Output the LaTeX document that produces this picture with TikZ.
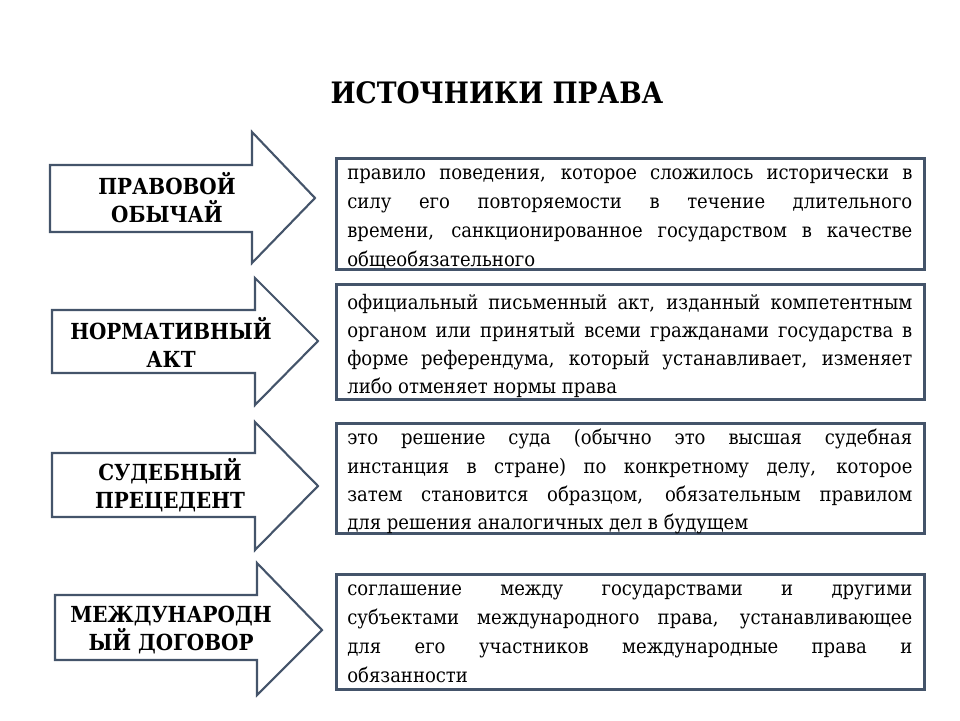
\documentclass[tikz,border=0pt]{standalone}
\usepackage{fontspec}
\setmainfont{DejaVu Serif Condensed}
\definecolor{slate}{RGB}{68,84,106}
\tikzset{
  srcarrow/.style={draw=slate, line width=1.2pt, fill=white, line join=miter},
  srclabel/.style={font=\fontsize{12.6}{16}\selectfont\bfseries, align=center},
  defbox/.style={draw=slate, line width=1.8pt, anchor=north west,
    minimum width=11.76cm, inner sep=0pt},
  deftext/.style={anchor=north west, text width=11.3cm, inner sep=0pt,
    align=justify, font=\fontsize{11.4}{16.5}\selectfont}
}

\begin{document}
\hyphenpenalty=10000
\begin{tikzpicture}[x=0.02cm, y=-0.02cm]
  \useasboundingbox (0,0) rectangle (960,720);

  \node[font=\fontsize{16.8}{20}\selectfont\bfseries] (title) at (497,93) {ИСТОЧНИКИ ПРАВА};

  % правовой обычай
  \draw[srcarrow] (50,165) -- (252,165) -- (252,132) -- (315,198)
    -- (252,263) -- (252,232) -- (50,232) -- cycle;
  \node[srclabel] (custom) at (167,198) {ПРАВОВОЙ\\ОБЫЧАЙ};
  \node[defbox, minimum height=2.22cm] (customdef) at (335,157) {};
  \node[deftext] (customtext) at (347,168)
    {правило поведения, которое сложилось исторически в\linebreak
     силу его повторяемости в течение длительного\linebreak
     времени, санкционированное государством в качестве\linebreak
     общеобязательного};

  % нормативный акт
  \draw[srcarrow] (52,310) -- (255,310) -- (255,278) -- (318,341)
    -- (255,405) -- (255,373) -- (52,373) -- cycle;
  \node[srclabel] (statute) at (171,342) {НОРМАТИВНЫЙ\\АКТ};
  \node[defbox, minimum height=2.3cm] (statutedef) at (335,283) {};
  \node[deftext, font=\fontsize{11.4}{16}\selectfont] (statutetext) at (347,294)
    {официальный письменный акт, изданный компетентным\linebreak
     органом или принятый всеми гражданами государства в\linebreak
     форме референдума, который устанавливает, изменяет\linebreak
     либо отменяет нормы права};

  % судебный прецедент
  \draw[srcarrow] (52,453) -- (255,453) -- (255,422) -- (318,486)
    -- (255,550) -- (255,517) -- (52,517) -- cycle;
  \node[srclabel] (precedent) at (170,485) {СУДЕБНЫЙ\\ПРЕЦЕДЕНТ};
  \node[defbox, minimum height=2.2cm] (precedentdef) at (335,422) {};
  \node[deftext, font=\fontsize{11.4}{16}\selectfont] (precedenttext) at (347,429)
    {это решение суда (обычно это высшая судебная\linebreak
     инстанция в стране) по конкретному делу, которое\linebreak
     затем становится образцом, обязательным правилом\linebreak
     для решения аналогичных дел в будущем};

  % международный договор
  \draw[srcarrow] (55,595) -- (257,595) -- (257,563) -- (322,630)
    -- (257,695) -- (257,660) -- (55,660) -- cycle;
  \node[srclabel] (treaty) at (171,630) {МЕЖДУНАРОДН\\ЫЙ ДОГОВОР};
  \node[defbox, minimum height=2.3cm] (treatydef) at (335,573) {};
  \node[deftext] (treatytext) at (347,584)
    {соглашение между государствами и другими\linebreak
     субъектами международного права, устанавливающее\linebreak
     для его участников международные права и\linebreak
     обязанности};
\end{tikzpicture}
\end{document}
